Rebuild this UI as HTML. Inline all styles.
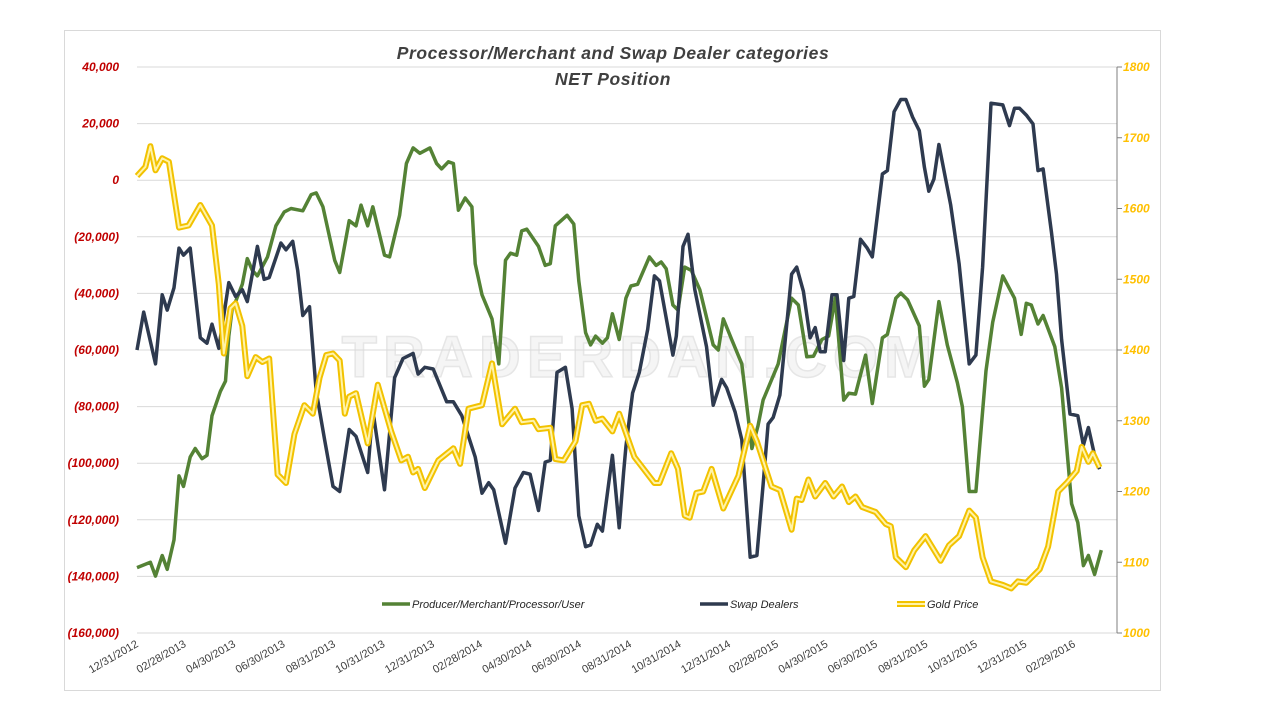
<!DOCTYPE html>
<html><head><meta charset="utf-8"><style>
body{margin:0;background:#fff;width:1280px;height:720px;overflow:hidden}
svg{display:block;font-family:"Liberation Sans",sans-serif}
</style></head><body>
<svg id="c" width="1280" height="720">
<rect x="64.5" y="30.5" width="1096" height="660" fill="#fff" stroke="#d9d9d9"/>
<text x="613" y="59" text-anchor="middle" font-size="17.5" font-weight="bold" font-style="italic" letter-spacing="0.6" fill="#404040">Processor/Merchant  and Swap Dealer categories</text>
<text x="613" y="85" text-anchor="middle" font-size="17.5" font-weight="bold" font-style="italic" letter-spacing="0.6" fill="#404040">NET Position</text>
<text x="640" y="377" text-anchor="middle" font-size="58" font-weight="bold" letter-spacing="6" fill="#f5f5f5" stroke="#e6e6e6" stroke-width="1.5">TRADERDAN.COM</text>
<g id="grid"></g><g id="axes"></g><g id="series"></g>
<g>
<line x1="382" y1="604" x2="410" y2="604" stroke="#548235" stroke-width="3.5"/>
<text x="412" y="608" font-size="11" font-style="italic" fill="#262626">Producer/Merchant/Processor/User</text>
<line x1="700" y1="604" x2="728" y2="604" stroke="#2e3a4f" stroke-width="3.5"/>
<text x="730" y="608" font-size="11" font-style="italic" fill="#262626">Swap Dealers</text>
<line x1="897" y1="604" x2="925" y2="604" stroke="#f2c200" stroke-width="6"/>
<line x1="897" y1="604" x2="925" y2="604" stroke="#fff3a8" stroke-width="2"/>
<text x="927" y="608" font-size="11" font-style="italic" fill="#262626">Gold Price</text>
</g>
</svg>
<script>
const greenWeeks=[0,2.4,3.3,4.5,5.4,6.6,7.5,8.3,9.5,10.4,11.6,12.5,13.4,14.9,15.8,16.4,17,17.6,18.8,19.7,20.6,21.5,23.3,24.8,26.3,27.5,29.6,31.1,32,33.2,35.3,36.2,37.9,39.1,40,41.2,42.1,44.2,45.1,46.9,48.1,49.3,50.5,52.3,53.5,54.4,55.6,56.5,57.4,58.6,59.8,60.4,61.6,63.4,64.6,65.8,66.7,67.8,68.7,69.6,71.7,72.9,73.8,74.7,76.8,78,78.9,80.1,81,81.9,83.1,84,84.9,86.1,87.3,88.2,89.4,91.5,92.7,93.6,94.5,95.7,96.6,97.8,99,100.5,102.9,103.8,104.7,106.2,108,109.8,110.9,111.8,114.5,116.9,118.1,119.6,120.8,122.3,123.5,124.7,126.2,127.1,128.3,130.1,131.3,133.1,134,135.5,136.4,137.6,139.7,140.6,141.4,143.2,144.7,146.5,147.4,148.6,149.8,151.6,152.8,154.6,156.7,157.9,158.8,159.7,160.9,161.8,163.9,165.1,166.9,168,169,169.9,171,172.2];
const greenValues=[-136.9,-135,-139.9,-132.6,-137.5,-127.1,-104.5,-108.2,-97.8,-94.8,-98.4,-97.2,-83.2,-74.6,-71,-55.1,-45.4,-42.9,-36.8,-27.7,-31.9,-33.8,-27.1,-16.1,-11.2,-10,-10.8,-5.1,-4.5,-9.4,-28.3,-32.6,-14.3,-16.1,-8.8,-16.1,-9.4,-26.5,-27.1,-12.4,5.9,11.4,9.5,11.4,5.9,4,6.5,5.9,-10.6,-6.3,-9.4,-29.5,-40.5,-49,-64.9,-28.3,-25.8,-26.5,-17.9,-17.3,-23.4,-30.1,-29.5,-16.1,-12.4,-15.5,-35.6,-53.9,-58.2,-55.1,-57.6,-55.7,-47.2,-56.3,-41.7,-37.4,-36.8,-27.1,-30.1,-28.9,-31.3,-44.1,-45.9,-30.7,-31.9,-38.7,-58.2,-60,-49,-56.3,-64.9,-94.8,-86.8,-77.7,-64.9,-41.7,-44.1,-62.4,-62.2,-56.3,-55.1,-41.7,-77.7,-75.3,-75.6,-61.8,-78.9,-55.7,-54.5,-41.7,-39.9,-42.3,-51.5,-72.8,-70.4,-42.9,-58.2,-71.6,-80.1,-110,-110,-67.3,-50.2,-33.8,-41.7,-54.5,-43.5,-44.1,-50.8,-47.8,-58.8,-73.4,-114.3,-121,-136.2,-132.6,-139.3,-130.7];
const swapWeeks=[0,1.2,3.3,4.5,5.4,6.6,7.5,8.3,9.5,11.3,12.5,13.4,14.6,16.4,17.6,18.8,19.7,21.5,22.7,23.6,25.7,26.6,27.8,28.7,29.6,30.8,32,33.5,35,36.2,37.9,39.1,41.2,42.1,44.2,46,47.5,49.3,50.2,51.4,52.9,55.3,56.5,58,60.4,61.6,62.8,63.7,65.8,67.5,69,70.2,71.7,72.9,73.8,75,76.5,77.7,78.9,80.1,81,82.2,83.1,84.9,86.1,86.9,87.3,88.5,89.7,91.2,92.4,93.3,95.7,96.3,97.5,98.4,99.6,101.7,102.9,104.4,105.3,106.8,108,109.5,110.7,111.8,112.7,113.6,114.8,116.9,117.8,119,120.2,121.1,122,122.9,124.1,125,126.2,127.1,128,129.2,130.4,131.3,133.1,134,135.2,136.4,137.3,138.5,139.7,140.6,141.4,142.3,143.2,145.3,146.8,148.6,149.8,151,152.5,154.6,155.8,156.7,157.6,158.8,160,160.9,161.8,163.3,164.2,165.1,166.6,168,169,169.9,171,171.9];
const swapValues=[-60,-46.6,-64.9,-40.5,-45.9,-38,-24,-26.5,-24,-55.7,-57.6,-50.9,-59.4,-36.2,-41.1,-38.7,-42.9,-23.4,-35,-34.4,-22.2,-24.6,-21.6,-31.9,-47.8,-44.7,-74.6,-91.7,-108.2,-110,-88.1,-90.5,-103.3,-81.3,-109.4,-69.8,-63,-61.2,-68.5,-66.1,-66.7,-78.3,-78.3,-83.2,-97.8,-110.6,-106.9,-109.4,-128.3,-108.8,-103.3,-103.9,-116.7,-99.6,-99,-67.9,-66.1,-80.7,-118.6,-129.5,-128.9,-121.6,-124,-97.2,-122.8,-103.3,-94.2,-75.2,-67.9,-52.7,-33.8,-35.6,-61.8,-55.1,-23.4,-19.1,-38.7,-58.8,-79.5,-70.4,-73.4,-81.9,-91.7,-133.2,-132.6,-107.6,-86.2,-83.8,-75.9,-33.2,-30.7,-39.3,-55.7,-52.1,-60.6,-60.6,-40.5,-40.5,-63.7,-41.7,-41.1,-20.9,-24,-27.1,2.2,3.4,24.2,28.5,28.5,22.3,17.5,4.6,-3.9,0.4,12.6,-8.8,-29.5,-64.9,-61.8,-30.7,27.2,26.6,19.3,25.4,25.4,23,19.9,3.4,4,-18.5,-33.2,-56.3,-82.6,-83.2,-93.6,-87.4,-97.2,-102.1];
const goldWeeks=[0,1.5,2.4,3.3,4.5,5.7,7.5,9.2,11.3,13.4,14.6,15.5,16.7,17.6,18.8,19.7,21.2,22.4,23.6,25.1,26.6,28.1,29.9,31.4,32.6,33.8,35,36.2,37.1,37.9,39.1,41.2,43,45.4,47.2,48.4,49.3,50.2,51.4,53.8,56.5,57.7,59.2,61.6,63.4,65.2,67.5,68.7,70.8,71.7,73.8,74.7,76.2,78.3,79.5,80.7,81.9,83.1,84.9,86.1,88.8,92.4,93.3,95.4,96.6,97.8,98.7,99.9,101.1,102.6,104.7,107.4,109.5,110.7,113.3,114.8,116.9,117.8,118.7,119.9,121.1,122.9,124.4,125.9,127.1,128.3,129.5,131.9,133.7,134.6,135.5,137.3,138.8,140.8,143.5,145,146.8,148.6,149.8,151,152.5,154.6,156.1,157.3,158.8,161.2,162.7,164.5,166,167.8,168.7,169.9,170.7,171.9];
const goldValues=[1646,1659,1688,1654,1671,1666,1573,1576,1605,1576,1493,1395,1459,1466,1434,1363,1390,1383,1388,1224,1212,1281,1322,1310,1361,1393,1395,1385,1310,1334,1339,1268,1351,1285,1244,1249,1227,1232,1205,1244,1261,1239,1317,1322,1381,1295,1317,1298,1300,1288,1290,1246,1244,1271,1322,1324,1300,1303,1285,1310,1249,1212,1212,1254,1232,1166,1163,1198,1200,1232,1176,1222,1293,1271,1207,1202,1146,1190,1188,1217,1193,1212,1193,1207,1185,1193,1178,1171,1154,1151,1107,1093,1117,1137,1102,1124,1137,1173,1163,1107,1073,1068,1063,1073,1071,1090,1122,1200,1212,1229,1263,1242,1254,1234];
const leftTicks=[40,20,0,-20,-40,-60,-80,-100,-120,-140,-160];
const leftTickLabels=["40,000","20,000","0","(20,000)","(40,000)","(60,000)","(80,000)","(100,000)","(120,000)","(140,000)","(160,000)"];
const rightTicks=[1800,1700,1600,1500,1400,1300,1200,1100,1000];
const dateLabels=["12/31/2012","02/28/2013","04/30/2013","06/30/2013","08/31/2013","10/31/2013","12/31/2013","02/28/2014","04/30/2014","06/30/2014","08/31/2014","10/31/2014","12/31/2014","02/28/2015","04/30/2015","06/30/2015","08/31/2015","10/31/2015","12/31/2015","02/29/2016"];

const NS="http://www.w3.org/2000/svg";
const X0=137,X1=1117,Y0=67,Y1=633;
const xs=w=>X0+w*5.6;
const xl=w=>X0+w*5.68+2;
const yL=v=>Y0+(40-v)*(Y1-Y0)/200;
const yR=v=>Y0+(1800-v)*(Y1-Y0)/800;
function mk(tag,attrs,parent){const e=document.createElementNS(NS,tag);for(const k in attrs)e.setAttribute(k,attrs[k]);parent.appendChild(e);return e;}
const grid=document.getElementById('grid'),axes=document.getElementById('axes'),series=document.getElementById('series');
leftTicks.forEach((t,i)=>{
  const l=mk('line',{x1:X0,x2:X1,y1:yL(t),y2:yL(t),stroke:'#d9d9d9','stroke-width':1},grid);
  
  
  const tx=mk('text',{x:119,y:yL(t)+4,'text-anchor':'end','font-size':12,'font-weight':'bold','font-style':'italic',fill:'#c00000'},axes);
  tx.textContent=leftTickLabels[i];
  
  
});
const ax=mk('line',{x1:X1,x2:X1,y1:Y0,y2:Y1,stroke:'#7f7f7f','stroke-width':1},axes);


rightTicks.forEach(t=>{
  mk('line',{x1:X1,x2:X1+5,y1:yR(t),y2:yR(t),stroke:'#7f7f7f'},axes);
  const tx=mk('text',{x:1123,y:yR(t)+4,'font-size':12,'font-weight':'bold','font-style':'italic',fill:'#ffc000'},axes);
  tx.textContent=String(t);
  
  
});
const base=Date.UTC(2012,11,31);
dateLabels.forEach(d=>{
  const p=d.split('/');const w=(Date.UTC(+p[2],+p[0]-1,+p[1])-base)/864e5/7;
  const x=xl(w),y=646;
  const tx=mk('text',{x:x,y:y,'text-anchor':'end','font-size':11,fill:'#404040',transform:`rotate(-30 ${x} ${y})`},axes);
  tx.textContent=d;
  
  
});
function pathD(ws,vs,f){return ws.map((w,i)=>(i?'L':'M')+xs(w).toFixed(1)+','+f(vs[i]).toFixed(1)).join('');}
const g1=mk('path',{d:pathD(greenWeeks,greenValues,yL),fill:'none',stroke:'#548235','stroke-width':3.5,'stroke-linejoin':'round'},series);


const s1=mk('path',{d:pathD(swapWeeks,swapValues,yL),fill:'none',stroke:'#2e3a4f','stroke-width':3.5,'stroke-linejoin':'round'},series);


const gd=pathD(goldWeeks,goldValues,yR);
const go=mk('path',{d:gd,fill:'none',stroke:'#f2c200','stroke-width':6,'stroke-linejoin':'round'},series);


const gi=mk('path',{d:gd,fill:'none',stroke:'#fff3a8','stroke-width':2,'stroke-linejoin':'round'},series);


</script>
</body></html>
